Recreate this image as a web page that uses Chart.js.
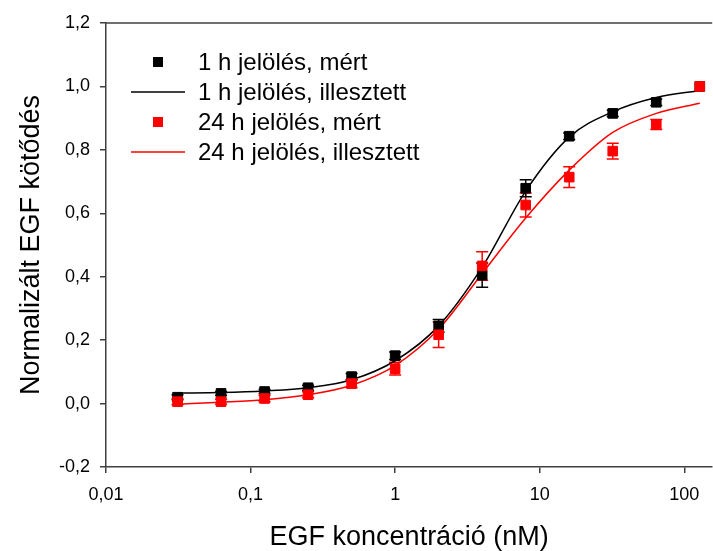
<!DOCTYPE html>
<html>
<head>
<meta charset="utf-8">
<script src="https://cdn.jsdelivr.net/npm/chart.js@4/dist/chart.umd.min.js"></script>
<style>
html,body{margin:0;padding:0;background:#fff;overflow:hidden;}
#wrap{width:713px;height:551px;position:relative;overflow:hidden;}
</style>
</head>
<body>
<div id="wrap"><canvas id="c" width="720" height="551"></canvas></div>
<script>
const concentrations = [0.03125, 0.0625, 0.125, 0.25, 0.5, 1, 2, 4, 8, 16, 32, 64, 128];
const measured1h = [0.020, 0.032, 0.038, 0.050, 0.085, 0.151, 0.245, 0.405, 0.679, 0.843, 0.915, 0.950, 1.000];
const error1h    = [0.008, 0.006, 0.006, 0.008, 0.010, 0.012, 0.020, 0.038, 0.027, 0.010, 0.010, 0.010, 0.000];
const measured24h = [0.006, 0.006, 0.016, 0.028, 0.063, 0.110, 0.217, 0.434, 0.626, 0.714, 0.796, 0.880, 1.000];
const error24h    = [0.010, 0.008, 0.010, 0.010, 0.012, 0.020, 0.040, 0.045, 0.038, 0.033, 0.025, 0.016, 0.000];
const fit1h  = [0.033, 0.035, 0.040, 0.050, 0.075, 0.135, 0.245, 0.430, 0.670, 0.840, 0.920, 0.965, 0.987];
const fit24h = [-0.002, 0.004, 0.012, 0.028, 0.058, 0.120, 0.235, 0.410, 0.585, 0.736, 0.855, 0.915, 0.947];
const xTickValues = [0.01, 0.1, 1, 10, 100];
const yTickValues = [-0.2, 0, 0.2, 0.4, 0.6, 0.8, 1.0, 1.2];
const seriesLabels = ['1 h jelölés, mért', '1 h jelölés, illesztett', '24 h jelölés, mért', '24 h jelölés, illesztett'];
const xTitle = 'EGF koncentráció (nM)';
const yTitle = 'Normalizált EGF kötődés';

const FONT = "'Liberation Sans', Arial, sans-serif";
const AXIS = '#404040';
const toXY = (ys) => concentrations.map((c, i) => ({x: c, y: ys[i]}));

const errorBarPlugin = {
  id: 'errorBars',
  beforeDatasetsDraw(chart) {
    const ctx = chart.ctx;
    const xs = chart.scales.x, ys = chart.scales.y;
    chart.data.datasets.forEach((ds) => {
      if (!ds.errorBars) return;
      ctx.save();
      ctx.strokeStyle = ds.backgroundColor;
      ctx.lineWidth = 1.5;
      ds.data.forEach((p, i) => {
        const e = ds.errorBars[i];
        if (!e) return;
        const px = xs.getPixelForValue(p.x);
        const y1 = ys.getPixelForValue(p.y + e);
        const y2 = ys.getPixelForValue(p.y - e);
        ctx.beginPath();
        ctx.moveTo(px, y1); ctx.lineTo(px, y2);
        ctx.moveTo(px - 6, y1); ctx.lineTo(px + 6, y1);
        ctx.moveTo(px - 6, y2); ctx.lineTo(px + 6, y2);
        ctx.stroke();
      });
      ctx.restore();
    });
  }
};

const framePlugin = {
  id: 'frame',
  afterDraw(chart) {
    const ctx = chart.ctx, a = chart.chartArea;
    ctx.save();
    ctx.strokeStyle = AXIS;
    ctx.lineWidth = 1.5;
    ctx.beginPath();
    ctx.moveTo(a.left, a.top); ctx.lineTo(a.right, a.top);
    ctx.stroke();
    ctx.restore();
  }
};

const legendPlugin = {
  id: 'customLegend',
  afterDraw(chart) {
    const ctx = chart.ctx;
    const rows = [
      {label: seriesLabels[0], color: '#000000', marker: true},
      {label: seriesLabels[1], color: '#000000', marker: false},
      {label: seriesLabels[2], color: '#ff0000', marker: true},
      {label: seriesLabels[3], color: '#ff0000', marker: false}
    ];
    const rowY = [62, 92, 122, 152];
    ctx.save();
    ctx.font = '24px ' + FONT;
    ctx.textBaseline = 'middle';
    ctx.textAlign = 'left';
    rows.forEach((r, i) => {
      const y = rowY[i];
      if (r.marker) {
        ctx.fillStyle = r.color;
        ctx.fillRect(153, y - 5, 10, 10);
      } else {
        ctx.strokeStyle = r.color;
        ctx.lineWidth = 1.5;
        ctx.beginPath();
        ctx.moveTo(131, y); ctx.lineTo(185, y);
        ctx.stroke();
      }
      ctx.fillStyle = '#000';
      ctx.fillText(r.label, 198, y + 1);
    });
    ctx.restore();
  }
};

new Chart(document.getElementById('c'), {
  type: 'scatter',
  data: {
    datasets: [
      {label: seriesLabels[2], data: toXY(measured24h), errorBars: error24h, showLine: false,
       pointStyle: 'rect', pointRadius: 6.8, pointHoverRadius: 6.8, pointBorderWidth: 1,
       backgroundColor: '#ff0000', borderColor: '#ff0000'},
      {label: seriesLabels[0], data: toXY(measured1h), errorBars: error1h, showLine: false,
       pointStyle: 'rect', pointRadius: 6.8, pointHoverRadius: 6.8, pointBorderWidth: 1,
       backgroundColor: '#000000', borderColor: '#000000'},
      {label: seriesLabels[3], data: toXY(fit24h), showLine: true, pointRadius: 0,
       borderColor: '#ff0000', backgroundColor: '#ff0000', borderWidth: 1.5, cubicInterpolationMode: 'monotone'},
      {label: seriesLabels[1], data: toXY(fit1h), showLine: true, pointRadius: 0,
       borderColor: '#000000', backgroundColor: '#000000', borderWidth: 1.5, cubicInterpolationMode: 'monotone'}
    ]
  },
  options: {
    responsive: false,
    animation: false,
    events: [],
    layout: {padding: {top: 23, right: 0, left: 0, bottom: 0}},
    plugins: {legend: {display: false}, tooltip: {enabled: false}},
    scales: {
      x: {
        type: 'logarithmic', position: 'bottom', min: 0.01, max: 156,
        afterBuildTicks: (s) => { s.ticks = xTickValues.map(v => ({value: v})); },
        afterFit: (s) => { s.height = 84; },
        grid: {display: true, drawOnChartArea: false, drawTicks: true, tickLength: 6, color: AXIS, lineWidth: 1.5},
        border: {display: true, color: AXIS, width: 1.5},
        ticks: {color: '#000', font: {family: FONT, size: 18}, padding: 11, maxRotation: 0, autoSkip: false,
                callback: (v) => String(v).replace('.', ',')},
        title: {display: true, text: xTitle, color: '#000', font: {family: FONT, size: 27, lineHeight: 1}, padding: {top: 0, bottom: 0}}
      },
      y: {
        min: -0.2, max: 1.2,
        afterBuildTicks: (s) => { s.ticks = yTickValues.map(v => ({value: v})); },
        afterFit: (s) => { s.width = 106; },
        grid: {display: true, drawOnChartArea: false, drawTicks: true, tickLength: 6, color: AXIS, lineWidth: 1.5},
        border: {display: true, color: AXIS, width: 1.5},
        ticks: {color: '#000', font: {family: FONT, size: 18}, padding: 10,
                callback: (v) => Number(v).toFixed(1).replace('.', ',')},
        title: {display: true, text: yTitle, color: '#000', font: {family: FONT, size: 27}, padding: {top: 15, bottom: 0}}
      }
    }
  },
  plugins: [errorBarPlugin, framePlugin, legendPlugin]
});
</script>
</body>
</html>
